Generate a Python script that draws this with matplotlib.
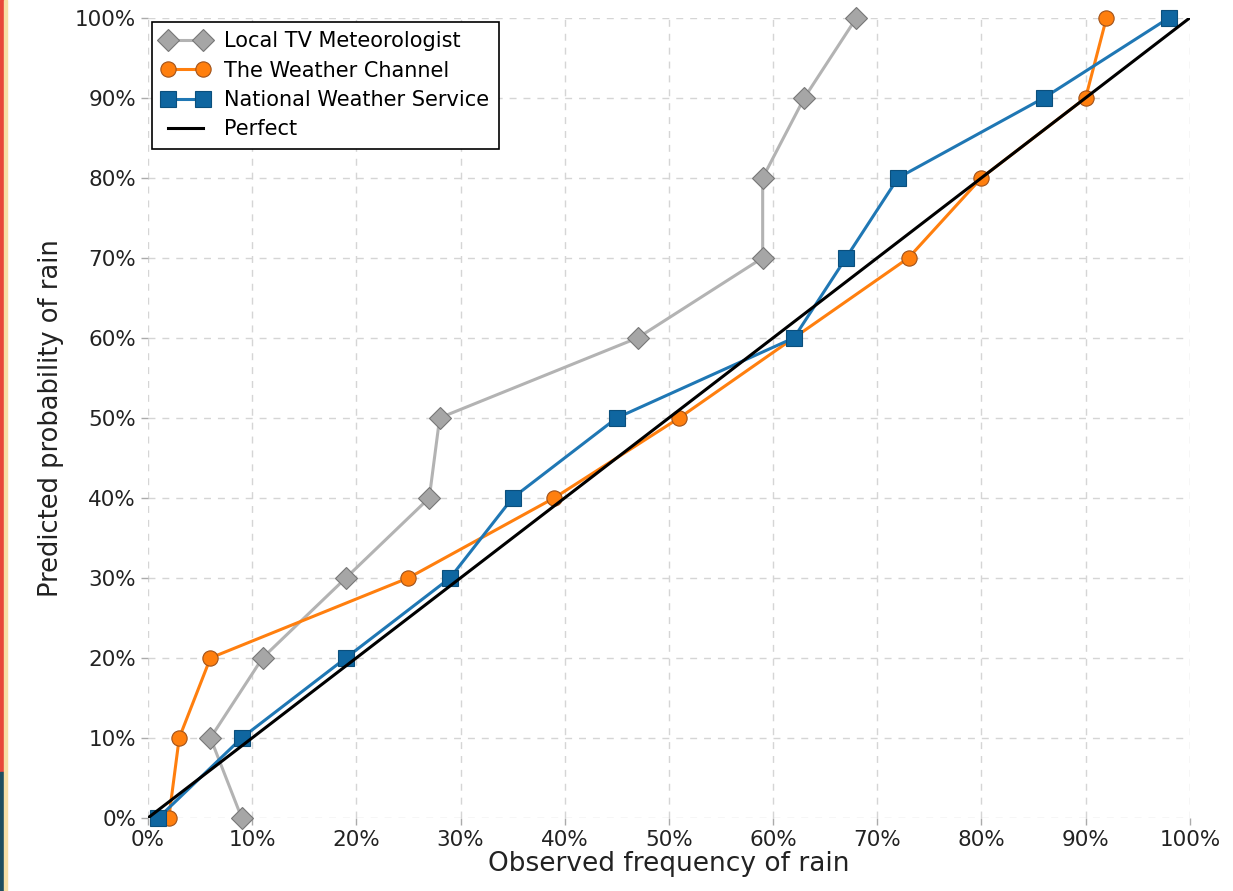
import matplotlib.pyplot as plt
from matplotlib.patches import Rectangle
from matplotlib.ticker import PercentFormatter

# predicted probability (y) vs observed frequency (x), in percent
predicted = [0, 10, 20, 30, 40, 50, 60, 70, 80, 90, 100]
local_tv = [9, 6, 11, 19, 27, 28, 47, 59, 59, 63, 68]
weather_channel = [2, 3, 6, 25, 39, 51, 62, 73, 80, 90, 92]
nws = [1, 9, 19, 29, 35, 45, 62, 67, 72, 86, 98]
ticks = [0, 10, 20, 30, 40, 50, 60, 70, 80, 90, 100]

fig = plt.figure(figsize=(12.33, 8.91), dpi=100)
ax = fig.add_axes([0.12, 0.082, 0.845, 0.898])

# thin page border on the left edge
fig.patches.append(Rectangle((0, 0.133), 0.0035, 0.867, transform=fig.transFigure, color='#e8483a', zorder=0))
fig.patches.append(Rectangle((0, 0), 0.0035, 0.133, transform=fig.transFigure, color='#1f4e5f', zorder=0))
fig.patches.append(Rectangle((0.0035, 0), 0.002, 1, transform=fig.transFigure, color='#f7dfa5', zorder=0))

ax.plot(local_tv, predicted, color='#b3b3b3', lw=2.2, marker='D', ms=11,
        mfc='#a6a6a6', mec='#777777', mew=0.8, clip_on=False, zorder=3,
        label='Local TV Meteorologist')
ax.plot(weather_channel, predicted, color='#ff7f0e', lw=2.2, marker='o', ms=11,
        mfc='#ff7f0e', mec='#a0521a', mew=0.8, clip_on=False, zorder=4,
        label='The Weather Channel')
ax.plot(nws, predicted, color='#1f77b4', lw=2.2, marker='s', ms=11,
        mfc='#0f66a0', mec='#0b4f7c', mew=0.8, clip_on=False, zorder=5,
        label='National Weather Service')
ax.plot([0, 100], [0, 100], color='black', lw=2.2, zorder=6, label='Perfect')

ax.set_xlim(0, 100)
ax.set_ylim(0, 100)
ax.set_xticks(ticks)
ax.set_yticks(ticks)
ax.xaxis.set_major_formatter(PercentFormatter(decimals=0))
ax.yaxis.set_major_formatter(PercentFormatter(decimals=0))
ax.tick_params(labelsize=15.5, colors='#222222', length=5, width=1)
ax.tick_params(color='#aaaaaa')
for s in ax.spines.values():
    s.set_visible(False)
ax.grid(True, ls=(0, (5, 5)), color='#d5d5d5', lw=1)
ax.set_axisbelow(True)

ax.set_xlabel('Observed frequency of rain', fontsize=19, color='#222222', labelpad=1)
ax.set_ylabel('Predicted probability of rain', fontsize=18.5, color='#222222', labelpad=8)

leg = ax.legend(loc='upper left', numpoints=2, fontsize=15, fancybox=False,
                framealpha=1, edgecolor='black', borderaxespad=0.2,
                handlelength=2.3, handletextpad=0.7, borderpad=0.45, labelspacing=0.45)
leg.get_frame().set_linewidth(1.2)

fig.savefig('out.png', dpi=100)
